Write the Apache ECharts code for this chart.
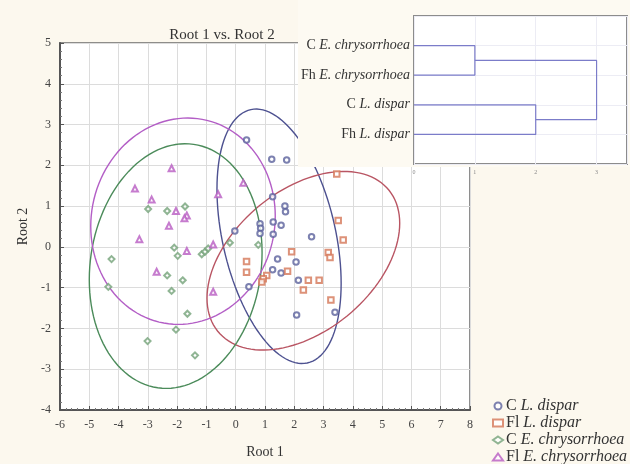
<!DOCTYPE html>
<html><head><meta charset="utf-8">
<script src="https://cdn.jsdelivr.net/npm/echarts@6/dist/echarts.min.js"></script>
<style>html,body{margin:0;padding:0;background:#fcf8ee;}#c{width:630px;height:464px;}</style>
</head><body><div id="c"></div>
<script>
// ---- data ----
const groupNames = ['C L. dispar', 'Fl L. dispar', 'C E. chrysorrhoea', 'Fl E. chrysorrhoea'];
const groupPrefix = ['C ', 'Fl ', 'C ', 'Fl '];
const groupItalic = ['L. dispar', 'L. dispar', 'E. chrysorrhoea', 'E. chrysorrhoea'];

const cLdispar = [
  [0.37, 2.62], [1.23, 2.15], [1.74, 2.13], [1.26, 1.23], [1.68, 1.00], [1.70, 0.86],
  [1.55, 0.53], [1.28, 0.61], [0.83, 0.57], [0.85, 0.46], [0.83, 0.33], [-0.03, 0.39],
  [1.28, 0.31], [1.43, -0.30], [2.06, -0.37], [1.26, -0.56], [1.55, -0.64], [2.14, -0.82],
  [0.45, -0.98], [2.59, 0.25], [2.08, -1.67], [3.39, -1.60]
];
const flLdispar = [
  [0.37, -0.36], [0.37, -0.62], [1.06, -0.70], [0.94, -0.78], [0.89, -0.86], [1.91, -0.12],
  [1.77, -0.60], [3.45, 1.79], [3.50, 0.65], [3.67, 0.17], [3.16, -0.14], [3.22, -0.26],
  [2.48, -0.82], [2.85, -0.82], [2.31, -1.06], [3.25, -1.30]
];
const cEchrys = [
  [-1.73, 0.99], [-2.34, 0.88], [-2.99, 0.93], [-2.10, -0.02], [-1.98, -0.22], [-4.24, -0.30],
  [-2.34, -0.70], [-1.81, -0.82], [-4.35, -0.98], [-2.19, -1.08], [-1.65, -1.64], [-2.04, -2.03],
  [-3.01, -2.31], [-1.39, -2.66], [-1.16, -0.18], [-1.05, -0.12], [-0.94, -0.04], [-0.20, 0.10],
  [0.77, 0.05]
];
const flEchrys = [
  [-2.19, 1.93], [-3.44, 1.43], [-2.87, 1.16], [-2.04, 0.88], [-1.67, 0.77], [-1.75, 0.70],
  [-2.28, 0.52], [-3.29, 0.19], [-1.67, -0.10], [-2.70, -0.61], [0.26, 1.57], [-0.60, 1.29],
  [-0.77, -1.10], [-0.77, 0.06]
];
// confidence ellipses: [centerX, centerY, halfWidthX, halfHeightY, correlation]
const ellipseCLdispar = [1.48, 0.26, 2.12, 3.12, -0.37];
const ellipseFlLdispar = [2.31, -0.34, 3.29, 2.19, 0.42];
const ellipseCEchrys = [-2.05, -0.47, 2.95, 3.00, 0.11];
const ellipseFlEchrys = [-1.80, 0.63, 3.15, 2.53, 0.05];

// dendrogram (inset)
const leafLabelPrefix = ['C ', 'Fh ', 'C ', 'Fh '];
const leafLabelItalic = ['E. chrysorrhoea', 'E. chrysorrhoea', 'L. dispar', 'L. dispar'];
const leafPositions = [1, 2, 3, 4];
const mergeHeights = [1.0, 2.0, 3.0];

// ---- chart ----
const colors = ['#5b619c', '#d47758', '#74a279', '#b85bc2'];
const ellipseColors = ['#4d5190', '#b95563', '#4b8b5a', '#b35ec6'];
const symbols = ['emptyCircle', 'emptyRect', 'emptyDiamond', 'emptyTriangle'];
const sizes = [5.5, 5.5, 6, 6];
const pointSets = [cLdispar, flLdispar, cEchrys, flEchrys];
const ellipses = [ellipseCLdispar, ellipseFlLdispar, ellipseCEchrys, ellipseFlEchrys];
const serif = 'Liberation Serif';

function ellipseRender(p, color) {
  return function (params, api) {
    const pts = [];
    const s = Math.sqrt(1 - p[4] * p[4]);
    for (let k = 0; k <= 120; k++) {
      const t = 2 * Math.PI * k / 120;
      pts.push(api.coord([p[0] + p[2] * Math.cos(t), p[1] + p[3] * (p[4] * Math.cos(t) + s * Math.sin(t))]));
    }
    return { type: 'polyline', shape: { points: pts }, style: { stroke: color, fill: null, lineWidth: 1.4 } };
  };
}

const series = [];
ellipses.forEach((p, i) => {
  series.push({
    type: 'custom', xAxisIndex: 0, yAxisIndex: 0, silent: true, z: 3,
    renderItem: ellipseRender(p, ellipseColors[i]), data: [[p[0], p[1]]]
  });
});
pointSets.forEach((d, i) => {
  series.push({
    name: groupNames[i], type: 'scatter', xAxisIndex: 0, yAxisIndex: 0, z: 4,
    symbol: symbols[i], symbolSize: sizes[i], data: d,
    itemStyle: { color: colors[i], borderWidth: 1.1 }
  });
});
// dendrogram links
const h = mergeHeights, L = leafPositions;
const links = [
  [[0, L[0]], [h[0], L[0]], [h[0], L[1]], [0, L[1]]],
  [[0, L[2]], [h[1], L[2]], [h[1], L[3]], [0, L[3]]],
  [[h[0], (L[0] + L[1]) / 2], [h[2], (L[0] + L[1]) / 2], [h[2], (L[2] + L[3]) / 2], [h[1], (L[2] + L[3]) / 2]]
];
links.forEach(d => {
  series.push({
    type: 'line', xAxisIndex: 1, yAxisIndex: 1, data: d, symbol: 'none', z: 22, silent: true,
    lineStyle: { color: '#7b7cc9', width: 1.2 }
  });
});

const chart = echarts.init(document.getElementById('c'), null, { renderer: 'canvas' });
chart.setOption({
  backgroundColor: '#fcf8ee',
  animation: false,
  textStyle: { fontFamily: serif },
  title: {
    text: 'Root 1 vs. Root 2', left: 217, top: 23, textAlign: 'center',
    textStyle: { fontFamily: serif, fontSize: 15, fontWeight: 'normal', color: '#333' }
  },
  graphic: [
    { type: 'rect', left: 298, top: 0, shape: { width: 340, height: 167 }, style: { fill: '#fdfaf2' }, z: 9 }
  ],
  legend: {
    orient: 'vertical', left: 487, top: 393, height: 120, itemGap: 1, itemWidth: 10, itemHeight: 7,
    data: groupNames,
    formatter: name => { const i = groupNames.indexOf(name); return '{n|' + groupPrefix[i] + '}{i|' + groupItalic[i] + '}'; },
    textStyle: {
      fontFamily: serif, fontSize: 16, color: '#333', padding: [0, 0, 0, -2],
      rich: { n: { fontFamily: serif, fontSize: 16, color: '#333' }, i: { fontFamily: serif, fontSize: 16, fontStyle: 'italic', color: '#333' } }
    }
  },
  grid: [
    { left: 60, right: 160, top: 43, bottom: 45, show: true, backgroundColor: '#ffffff', borderColor: '#6a6a6a', borderWidth: 1.5, z: 0 },
    { left: 414, top: 16, width: 222, height: 148, show: true, backgroundColor: '#ffffff', borderColor: '#8c8c8c', borderWidth: 2, z: 10 }
  ],
  xAxis: [
    {
      gridIndex: 0, type: 'value', min: -6, max: 8, interval: 1,
      name: 'Root 1', nameLocation: 'middle', nameGap: 35,
      nameTextStyle: { fontFamily: serif, fontSize: 14, color: '#333' },
      axisLine: { show: true, onZero: false, lineStyle: { color: '#555', width: 2 } },
      axisTick: { show: true, inside: true, length: 4, lineStyle: { color: '#555' } },
      minorTick: { show: true, splitNumber: 5, length: 2, lineStyle: { color: '#777' } },
      axisLabel: { fontFamily: serif, fontSize: 12, color: '#444', margin: 9 },
      splitLine: { show: true, lineStyle: { color: '#dcdcdc', width: 1 } }
    },
    {
      gridIndex: 1, type: 'value', min: 0, max: 3.5, interval: 1, z: 21,
      axisLine: { show: false }, axisTick: { show: false },
      axisLabel: { fontFamily: serif, fontSize: 6, color: '#888', margin: 5, formatter: v => (Number.isInteger(v) ? String(v) : '') },
      splitLine: { show: true, lineStyle: { color: '#ececf4', width: 1 } }
    }
  ],
  yAxis: [
    {
      gridIndex: 0, type: 'value', min: -4, max: 5, interval: 1,
      name: 'Root 2', nameLocation: 'middle', nameGap: 27, nameRotate: 90,
      nameTextStyle: { fontFamily: serif, fontSize: 14, color: '#333' },
      axisLine: { show: true, onZero: false, lineStyle: { color: '#555', width: 2 } },
      axisTick: { show: true, inside: true, length: 4, lineStyle: { color: '#555' } },
      minorTick: { show: true, splitNumber: 5, length: 2, lineStyle: { color: '#777' } },
      axisLabel: { fontFamily: serif, fontSize: 12, color: '#444', margin: 9 },
      splitLine: { show: true, lineStyle: { color: '#dcdcdc', width: 1 } }
    },
    {
      gridIndex: 1, type: 'value', min: 0, max: 5, interval: 1, inverse: true, z: 21,
      axisLine: { show: false }, axisTick: { show: false },
      axisLabel: {
        margin: 4, fontFamily: serif, fontSize: 14, color: '#333',
        formatter: v => { const i = leafPositions.indexOf(v); return i < 0 ? '' : '{n|' + leafLabelPrefix[i] + '}{i|' + leafLabelItalic[i] + '}'; },
        rich: { n: { fontFamily: serif, fontSize: 14, color: '#333' }, i: { fontFamily: serif, fontSize: 14, fontStyle: 'italic', color: '#333' } }
      },
      splitLine: { show: true, lineStyle: { color: '#ececf4', width: 1 } }
    }
  ],
  series: series
});
</script>
</body></html>
